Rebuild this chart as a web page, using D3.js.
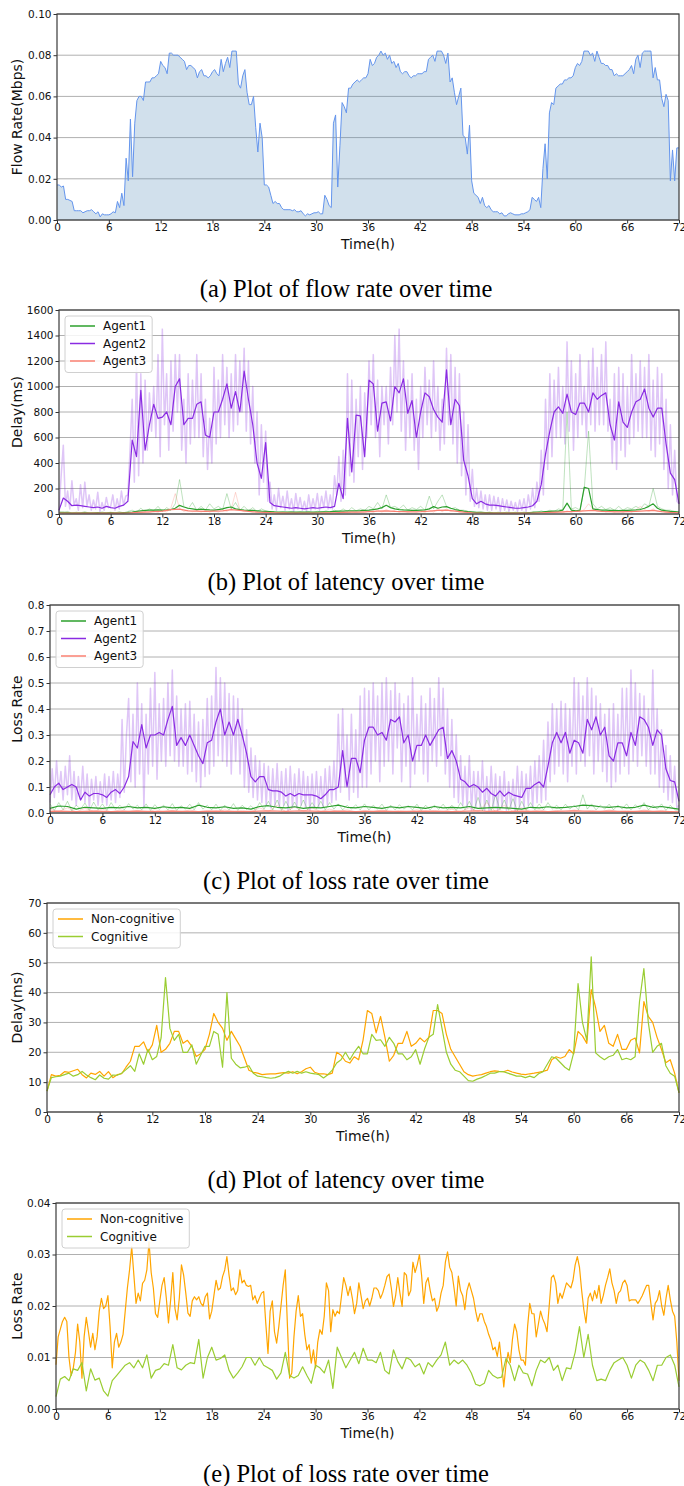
<!DOCTYPE html>
<html>
<head>
<meta charset="utf-8">
<script src="https://cdn.jsdelivr.net/npm/d3@7"></script>
<style>
  body { margin: 0; background: #fff; }
  svg { display: block; }
</style>
</head>
<body>
<svg id="chart" width="684" height="1486"></svg>
<script>

/*
 * Data. Every series covers 0..72 h at an even step (step = 72 / (n - 1)).
 */

// Shared x ticks (hours).
var hourTicks = [0, 6, 12, 18, 24, 30, 36, 42, 48, 54, 60, 66, 72];

// Y ticks per panel.
var flowTicks = [0, 0.02, 0.04, 0.06, 0.08, 0.10];
var delayTicks = [0, 200, 400, 600, 800, 1000, 1200, 1400, 1600];
var lossTicks = [0, 0.1, 0.2, 0.3, 0.4, 0.5, 0.6, 0.7, 0.8];
var cogDelayTicks = [0, 10, 20, 30, 40, 50, 60, 70];
var cogLossTicks = [0, 0.01, 0.02, 0.03, 0.04];

// (a) Flow rate, step 0.25 h.
var flowRate = [
  .017,.017,.016,.0165, .010,.010,.0095,.009, .0045,.0045,.0045,.0045, .0035,.004,.0045,.0045,
  .005,.004,.003,.004, .0015,.003,.0025,.0025, .0025,.003,.004,.0035, .009,.006,.013,.007,
  .030,.019,.049,.021, .047,.058,.060,.060, .058,.067,.067,.067, .069,.069,.070,.071,
  .077,.075,.074,.071, .081,.081,.080,.080, .080,.079,.078,.077, .073,.075,.075,.074,
  .073,.069,.072,.073, .070,.070,.069,.070, .072,.073,.071,.070, .078,.072,.076,.079,
  .074,.082,.082,.082, .066,.064,.070,.073, .062,.056,.056,.060, .045,.033,.047,.040,
  .017,.017,.016,.012, .008,.009,.008,.008, .006,.005,.005,.005, .005,.0045,.005,.004,
  .004,.0045,.003,.002, .003,.0025,.003,.0035, .0035,.004,.003,.003, .012,.010,.007,.006,
  .047,.051,.016,.036, .057,.055,.052,.064, .064,.066,.067,.068, .067,.068,.069,.069,
  .071,.078,.075,.076, .079,.080,.082,.080, .081,.078,.080,.076, .077,.074,.076,.072,
  .071,.072,.072,.070, .069,.070,.070,.071, .071,.071,.072,.072, .078,.079,.080,.077,
  .082,.082,.082,.080, .076,.081,.067,.069, .062,.056,.060,.064, .041,.040,.032,.046,
  .019,.013,.012,.011, .008,.011,.007,.006, .007,.005,.004,.004, .004,.003,.0035,.002,
  .002,.003,.0035,.003, .0025,.0025,.0025,.003, .003,.0035,.004,.005, .011,.010,.009,.011,
  .006,.025,.037,.020, .052,.057,.056,.064, .065,.066,.066,.068, .068,.069,.069,.070,
  .074,.076,.075,.077, .082,.082,.082,.080, .081,.077,.082,.079, .076,.076,.075,.075,
  .073,.073,.070,.071, .070,.070,.070,.071, .072,.073,.075,.071, .078,.080,.074,.081,
  .082,.082,.082,.082, .069,.074,.068,.068, .059,.055,.061,.058, .019,.034,.019,.035,
  .035
];

// (b) Delay, Agent2 raw samples, step 0.25 h.
var delayAgent2Raw = [
  20,300,540,60, 180,40,260,70, 120,30,230,50, 250,60,150,30,
  110,40,170,20, 90,30,130,50, 60,150,30,120, 40,180,70,140,
  150,500,900,250, 1200,300,1100,400, 1050,500,950,650, 1000,600,1250,450,
  1450,700,1100,500, 1200,650,1250,800, 1250,500,900,400, 1100,550,1050,600,
  1250,600,1100,450, 900,350,750,400, 1150,550,1050,600, 1250,700,1150,600,
  1100,650,1250,700, 1200,800,1300,650, 1200,550,1000,400, 800,150,700,250,
  650,100,250,40, 150,30,200,50, 140,30,180,40, 120,20,160,40,
  130,30,100,20, 150,30,120,40, 160,30,140,50, 180,40,150,40,
  300,150,450,100, 500,150,1100,300, 1050,250,900,450, 1000,350,950,600,
  1200,700,1250,600, 1050,450,1000,700, 1000,550,1150,700, 1400,800,1450,650,
  1200,500,1050,600, 1100,500,900,350, 1000,600,1150,700, 1050,600,1200,650,
  1000,500,900,550, 1300,700,1250,550, 1150,400,1100,300, 800,150,700,100,
  350,60,200,50, 180,40,150,30, 150,30,140,40, 130,20,120,30,
  110,20,100,30, 90,20,110,30, 120,20,150,40, 200,50,250,100,
  500,150,900,350, 1100,450,1050,600, 1150,600,1000,550, 1350,650,1200,500,
  1100,600,1250,700, 1000,600,1200,700, 1300,650,1150,700, 1250,700,1350,650,
  900,400,1100,350, 1150,500,1100,450, 1000,550,1250,600, 1100,650,1200,600,
  1150,600,1250,500, 1050,450,1150,550, 1100,350,900,200, 700,150,500,100,
  80
];

// (b) Delay, Agent2 smoothed, step 0.5 h.
var delayAgent2 = [
  30,125, 100,65, 70,65, 60,55, 50,55, 45,60, 50,45, 60,70,
  100,580, 450,970, 500,700, 860,750, 760,800, 700,1000, 1060,700, 750,750,
  860,880, 620,600, 800,800, 900,1020, 830,960, 800,1120, 900,700, 400,280,
  560,90, 65,60, 55,50, 45,50, 45,40, 45,50, 45,50, 55,50,
  60,240, 120,750, 330,775, 770,450, 1050,1020, 650,870, 880,730, 1000,950,
  1060,790, 890,600, 800,950, 920,820, 760,720, 1130,700, 900,850, 420,300,
  120,80, 100,80, 70,70, 65,60, 55,50, 45,45, 50,55, 65,100,
  230,470, 650,800, 840,790, 940,800, 780,870, 870,800, 950,900, 930,950,
  700,580, 880,720, 680,800, 880,900, 980,830, 760,830, 830,550, 320,270,
  80
];

// (b) Delay, Agent1 raw samples, step 0.5 h.
var delayAgent1Raw = [
  15,8, 20,6, 14,9, 18,7, 12,6, 16,8, 14,7, 18,9,
  20,30, 15,45, 20,40, 25,60, 20,50, 30,80, 270,60, 40,90,
  30,60, 30,80, 40,60, 35,160, 40,90, 30,60, 25,50, 20,40,
  25,15, 20,12, 18,12, 20,10, 18,12, 20,10, 22,12, 25,15,
  30,18, 40,20, 50,25, 40,30, 60,40, 90,40, 150,50, 60,40,
  70,30, 50,35, 60,30, 140,40, 100,150, 60,40, 50,30, 30,20,
  20,12, 15,10, 15,8, 14,8, 15,8, 14,8, 15,9, 18,12,
  25,15, 30,20, 40,30, 800,40, 50,30, 200,650, 80,40, 60,35,
  50,30, 60,30, 50,40, 60,40, 80,60, 200,60, 40,30, 30,20,
  15
];

// (b) Delay, Agent1 smoothed, step 0.5 h.
var delayAgent1 = [
  12,12, 11,10, 10,10, 11,10, 10,11, 10,10, 11,10, 10,11,
  12,15, 20,25, 28,30, 30,32, 30,32, 35,45, 68,55, 45,40,
  35,38, 35,32, 30,35, 40,50, 55,40, 35,30, 28,28, 25,22,
  20,18, 16,15, 15,14, 14,15, 14,14, 15,14, 15,16, 17,18,
  20,22, 22,24, 25,25, 26,28, 30,35, 40,50, 68,50, 40,35,
  32,30, 28,28, 30,32, 40,58, 45,55, 58,45, 35,28, 22,18,
  15,12, 12,11, 11,10, 10,10, 10,10, 10,10, 10,11, 12,14,
  15,18, 20,22, 22,30, 85,30, 25,28, 210,200, 40,35, 30,30,
  28,28, 27,28, 28,30, 32,35, 45,60, 80,45, 30,25, 20,18,
  15
];

// (b) Delay, Agent3 raw samples, step 0.5 h.
var delayAgent3Raw = [
  10,5, 9,5, 10,4, 8,5, 9,4, 8,5, 9,4, 10,5,
  12,6, 18,8, 20,10, 25,12, 30,15, 50,160, 45,20, 30,18,
  28,15, 30,15, 28,15, 35,20, 40,170, 35,18, 25,12, 20,10,
  15,8, 12,6, 10,6, 10,5, 10,5, 10,5, 10,5, 11,6,
  12,7, 15,8, 18,10, 20,10, 25,12, 30,15, 35,18, 28,14,
  25,12, 22,12, 25,12, 30,15, 40,18, 40,20, 30,14, 20,10,
  12,6, 10,5, 9,5, 9,4, 9,4, 9,5, 9,5, 10,6,
  12,7, 15,8, 20,10, 25,12, 30,15, 35,80, 40,20, 30,15,
  25,12, 25,12, 28,14, 30,60, 35,18, 40,20, 25,12, 15,8,
  10
];

// (b) Delay, Agent3 smoothed, step 1 h.
var delayAgent3 = [
  8,8,7,7,7,7,7,7, 8,12,15,18,22,35,38,25, 22,20,22,25,35,28,20,15,
  12,10,9,8,8,8,8,9, 10,12,14,15,18,22,25,20, 18,17,18,22,28,30,22,15,
  10,8,7,7,7,7,7,8, 10,12,15,18,20,25,28,20, 18,17,18,20,25,28,18,12,
  10
];

// (c) Loss rate, Agent2 raw samples, step 0.25 h.
var lossAgent2Raw = [
  .04,.17,.06,.20, .08,.16,.05,.18, .07,.22,.05,.16, .03,.14,.05,.18,
  .04,.15,.02,.13, .05,.14,.03,.12, .04,.15,.03,.14, .05,.16,.04,.15,
  .06,.36,.08,.30, .44,.12,.38,.10, .50,.15,.42,.02, .38,.15,.48,.18,
  .54,.13,.42,.20, .44,.18,.50,.22, .55,.20,.45,.18, .40,.18,.42,.15,
  .43,.16,.38,.12, .35,.10,.36,.14, .44,.15,.45,.18, .56,.22,.52,.20,
  .50,.18,.46,.15, .45,.20,.44,.15, .40,.10,.32,.08, .25,.06,.22,.05,
  .20,.04,.19,.03, .18,.02,.17,.03, .19,.02,.16,.03, .17,.01,.18,.02,
  .15,.02,.17,.03, .16,.02,.14,.01, .15,.02,.16,.02, .14,.02,.17,.03,
  .18,.04,.20,.05, .38,.08,.40,.10, .30,.05,.38,.08, .32,.06,.45,.10,
  .48,.10,.47,.15, .50,.20,.45,.12, .50,.18,.52,.20, .47,.15,.50,.25,
  .46,.12,.42,.18, .45,.10,.52,.15, .38,.20,.45,.15, .42,.12,.48,.20,
  .44,.18,.52,.22, .48,.15,.40,.10, .36,.06,.30,.04, .22,.03,.18,.02,
  .22,.01,.16,.02, .16,.02,.20,.01, .14,.01,.18,.02, .15,.01,.14,.02,
  .16,.01,.12,.02, .13,.01,.18,.02, .16,.02,.15,.03, .18,.02,.20,.04,
  .22,.04,.28,.05, .35,.12,.42,.15, .40,.18,.43,.15, .42,.12,.40,.18,
  .52,.15,.50,.20, .45,.18,.52,.22, .48,.15,.45,.20, .42,.16,.38,.12,
  .40,.10,.42,.12, .38,.15,.48,.18, .48,.15,.55,.20, .50,.18,.46,.22,
  .45,.18,.40,.15, .55,.15,.40,.10, .32,.08,.26,.05, .22,.04,.18,.02,
  .03
];

// (c) Loss rate, Agent2 smoothed, step 0.5 h.
var lossAgent2 = [
  .07,.10, .115,.09, .10,.11, .10,.05, .08,.065, .075,.075, .07,.06, .08,.09,
  .075,.10, .14,.275, .25,.34, .25,.30, .30,.31, .30,.36, .41,.26, .29,.26,
  .30,.26, .22,.19, .27,.28, .35,.40, .30,.35, .30,.36, .30,.23, .14,.12,
  .14,.14, .09,.085, .085,.08, .065,.075, .065,.075, .07,.07, .07,.065, .055,.07,
  .09,.09, .10,.24, .10,.21, .21,.155, .28,.33, .33,.30, .31,.28, .36,.35,
  .37,.27, .30,.20, .26,.26, .30,.26, .29,.32, .33,.21, .24,.20, .13,.12,
  .10,.11, .10,.08, .095,.075, .065,.085, .065,.08, .07,.065, .06,.095, .095,.11,
  .12,.10, .18,.27, .31,.27, .31,.23, .28,.27, .23,.36, .32,.37, .30,.33,
  .22,.20, .27,.27, .22,.31, .26,.37, .36,.33, .26,.32, .30,.17, .125,.12,
  .045
];

// (c) Loss rate, Agent1 raw samples, step 0.5 h.
var lossAgent1Raw = [
  .035,.010,.040,.012,.045,.008,.030,.015, .038,.010,.042,.012,.035,.010,.040,.014,
  .030,.012,.036,.015,.030,.012,.035,.010, .032,.014,.030,.012,.036,.010,.028,.015,
  .034,.012,.040,.015,.030,.012,.034,.010, .030,.012,.036,.010,.030,.014,.028,.010,
  .040,.015,.045,.012,.050,.010,.045,.012, .042,.010,.050,.012,.040,.015,.045,.012,
  .040,.015,.035,.012,.030,.015,.032,.012, .035,.012,.030,.015,.034,.010,.030,.012,
  .032,.015,.028,.012,.034,.010,.030,.012, .030,.014,.034,.012,.030,.010,.040,.012,
  .045,.010,.060,.008,.050,.010,.070,.012, .050,.010,.055,.008,.045,.010,.040,.012,
  .035,.012,.040,.015,.030,.012,.034,.015, .030,.012,.070,.015,.035,.012,.030,.015,
  .034,.012,.030,.015,.035,.012,.032,.015, .040,.012,.030,.015,.035,.010,.030,.012,
  .010
];

// (c) Loss rate, Agent1 smoothed, step 1 h.
var lossAgent1 = [
  .018,.027,.025,.015,.022,.020,.018,.022, .020,.025,.020,.022,.018,.024,.020,.022,
  .018,.030,.022,.020,.024,.018,.020,.015, .025,.028,.022,.020,.024,.018,.022,.020,
  .025,.030,.022,.020,.025,.022,.018,.024, .020,.025,.022,.018,.025,.020,.022,.020,
  .025,.018,.020,.022,.020,.018,.015,.022, .020,.024,.020,.022,.025,.030,.028,.024,
  .022,.025,.020,.022,.030,.022,.025,.020, .015
];

// (c) Loss rate, Agent3 raw samples, step 1 h.
var lossAgent3Raw = [
  .015,.005,.020,.004,.018,.006,.015,.004, .012,.005,.010,.004,.012,.005,.010,.004,
  .012,.005,.010,.004,.012,.005,.010,.004, .020,.005,.030,.004,.025,.006,.020,.005,
  .015,.005,.012,.004,.010,.005,.012,.004, .010,.005,.012,.004,.010,.005,.015,.004,
  .020,.005,.040,.005,.030,.006,.020,.005, .012,.005,.010,.004,.012,.005,.010,.004,
  .012,.005,.010,.004,.012,.005,.010,.004, .005
];

// (c) Loss rate, Agent3 smoothed, step 1 h.
var lossAgent3 = [
  .006,.007,.006,.005,.006,.007,.006,.005, .006,.006,.007,.006,.005,.006,.007,.006,
  .006,.005,.006,.007,.006,.006,.005,.006, .007,.008,.007,.006,.007,.008,.007,.006,
  .006,.007,.006,.005,.006,.006,.007,.006, .005,.006,.006,.007,.006,.006,.005,.006,
  .007,.008,.006,.007,.005,.006,.007,.006, .006,.005,.006,.007,.008,.007,.006,.006,
  .007,.006,.005,.006,.007,.006,.006,.005, .004
];

// (d) Delay, non-cognitive vs cognitive, step 0.5 h.
var delayNonCog = [
  7,12.5, 12,12.3, 13.5,13.3, 13.8,14.3, 12.5,11.4, 13,12.6, 13.6,12, 13.5,11.5,
  12.5,12.8, 15,17, 22,22, 23.5,20, 22.5,29, 20,21, 23,27, 27,23,
  24,22, 18.6,19.5, 21,26, 33,30, 28,24, 27,24.5, 22,18, 14,13.3,
  13,12.5, 12.7,12.8, 12.8,13, 13.2,13, 13.5,12.8, 13.5,14.5, 15,13.3, 12.8,12.8,
  12.5,13, 20,19, 17,16.4, 18.5,17.5, 24,34, 33,26.5, 32,25, 17,19,
  23,23, 27,22, 23,24.8, 23.5,25, 34,34, 33,26, 21,18.5, 16,13.5,
  12.5,12, 12.3,12.5, 13,13.5, 13.8,13.6, 13.5,14, 13.4,13, 12.7,12.5, 12.8,13,
  13.3,13.6, 14,17.5, 18.5,18, 18.6,20.9, 19.5,27, 25.5,23, 41,35, 27,29,
  23,22, 26,21, 21,24, 24.8,19.8, 37,32, 30,25, 21,16.5, 17.5,13,
  6.4
];
var delayCog = [
  7,11.5, 11.8,12, 12.5,13, 12,12.5, 13.6,12.4, 11.5,10.8, 12.4,11.3, 11,12.4,
  12.3,13, 14.2,15.5, 13.6,19.5, 16,21, 17.5,18.6, 24.8,45, 28,24, 26,20,
  20,22.5, 16,19, 22,22, 27,26, 15,40, 18,16, 14.8,15, 15.5,13,
  12,11.8, 11.5,11.3, 11.5,12, 13,13.6, 13,13.6, 13,13.5, 13,12.8, 12.5,11.4,
  12.5,14, 16.4,17.5, 20,17.5, 20,22, 19.5,19.5, 26,24, 24.2,22, 25,23,
  19.5,19.5, 17.5,18.5, 20.9,16, 21,25, 26,36, 28,20, 16,14, 13.5,12,
  10.5,10.3, 11,11.5, 12.2,13, 13,13.5, 13.5,13, 12.5,12, 12,11.5, 12,11.5,
  12.8,13.5, 16,18.5, 18,16.5, 15,14, 19.8,43, 30,24, 52,19.8, 18.5,17.5,
  18.5,19, 20.9,17.5, 18,17.5, 18.5,37, 48,30, 20,22, 23,15.5, 13,12,
  6.5
];

// (e) Loss rate, non-cognitive (step 0.25 h) vs cognitive (step 0.5 h).
var lossNonCog = [
  .0086,.0140,.0155,.0170, .0178,.0170,.0100,.0065, .0080,.0110,.0165,.0130, .0060,.0140,.0178,.0150,
  .0120,.0147,.0115,.0140, .0190,.0215,.0195,.0200, .0220,.0160,.0080,.0130, .0147,.0120,.0130,.0145,
  .0190,.0235,.0270,.0315, .0260,.0205,.0225,.0210, .0244,.0250,.0270,.0325, .0265,.0235,.0185,.0178,
  .0210,.0240,.0255,.0215, .0167,.0212,.0265,.0195, .0173,.0215,.0280,.0260, .0225,.0186,.0180,.0210,
  .0218,.0212,.0218,.0205, .0200,.0218,.0225,.0175, .0190,.0220,.0250,.0231, .0235,.0257,.0270,.0296,
  .0260,.0230,.0235,.0222, .0230,.0270,.0245,.0250, .0240,.0238,.0240,.0212, .0220,.0205,.0215,.0225,
  .0228,.0165,.0108,.0190, .0210,.0150,.0128,.0160, .0200,.0240,.0270,.0160, .0060,.0070,.0140,.0190,
  .0220,.0180,.0185,.0145, .0115,.0125,.0089,.0115, .0080,.0130,.0154,.0145, .0180,.0245,.0230,.0150,
  .0193,.0180,.0190,.0185, .0220,.0255,.0240,.0220, .0238,.0215,.0185,.0205, .0245,.0220,.0195,.0210,
  .0215,.0200,.0215,.0235, .0235,.0230,.0215,.0225, .0240,.0257,.0262,.0235, .0199,.0220,.0255,.0225,
  .0199,.0265,.0260,.0220, .0230,.0285,.0265,.0280, .0300,.0260,.0205,.0245, .0255,.0230,.0210,.0215,
  .0190,.0200,.0225,.0240, .0285,.0305,.0275,.0265, .0235,.0200,.0258,.0230, .0220,.0193,.0230,.0245,
  .0230,.0215,.0190,.0170, .0185,.0185,.0170,.0160, .0145,.0134,.0115,.0120, .0102,.0130,.0089,.0043,
  .0085,.0110,.0090,.0135, .0165,.0150,.0115,.0095, .0095,.0085,.0160,.0205, .0185,.0185,.0140,.0165,
  .0190,.0175,.0165,.0150, .0200,.0255,.0260,.0245, .0205,.0225,.0215,.0230, .0245,.0240,.0235,.0250,
  .0280,.0296,.0275,.0230, .0193,.0167,.0215,.0225, .0210,.0230,.0215,.0240, .0205,.0220,.0240,.0255,
  .0272,.0245,.0230,.0205, .0225,.0230,.0245,.0250, .0240,.0210,.0212,.0212, .0212,.0205,.0212,.0220,
  .0230,.0240,.0240,.0205, .0173,.0205,.0212,.0230, .0200,.0182,.0215,.0240, .0212,.0190,.0180,.0130,
  .0055
];
var lossCog = [
  .0024,.0058, .0063,.0055, .0078,.0075, .0090,.0035, .0078,.0056, .0060,.0035, .0025,.0055, .0065,.0075,
  .0085,.0090, .0080,.0095, .0080,.0105, .0060,.0075, .0078,.0088, .0085,.0125, .0080,.0076, .0085,.0090,
  .0088,.0135, .0060,.0100, .0120,.0095, .0098,.0105, .0075,.0060, .0070,.0082, .0100,.0100, .0085,.0100,
  .0085,.0080, .0075,.0058, .0070,.0110, .0065,.0060, .0065,.0082, .0065,.0050, .0085,.0080, .0070,.0095,
  .0040,.0120, .0100,.0080, .0095,.0110, .0088,.0118, .0095,.0095, .0090,.0110, .0075,.0068, .0115,.0092,
  .0078,.0100, .0095,.0082, .0088,.0068, .0090,.0082, .0095,.0105, .0130,.0085, .0095,.0088, .0095,.0085,
  .0070,.0048, .0045,.0050, .0075,.0065, .0060,.0062, .0098,.0085, .0055,.0085, .0070,.0068, .0045,.0075,
  .0095,.0090, .0100,.0075, .0085,.0055, .0080,.0078, .0110,.0160, .0100,.0145, .0085,.0055, .0058,.0055,
  .0075,.0090, .0095,.0100, .0085,.0060, .0085,.0095, .0090,.0075, .0055,.0085, .0085,.0100, .0105,.0085,
  .0043
];

/*
 * Layout.
 */

var svg = d3.select('#chart');
var plotRight = 679;
var font = '"DejaVu Sans", sans-serif';

/*
 * Turn an evenly spaced array into {t, v} points.
 *
 * @param {Array} values: Samples over 0..72 h.
 *
 * @return {Array}.
 */
function timed(values) {
  var step = 72 / (values.length - 1);
  return values.map(function(v, i) { return { t: i * step, v: v }; });
}

/*
 * Draw the frame of a panel: grid, axes, labels, caption.
 *
 * @param {Object} p: Panel layout.
 *
 * @return {Object} scales and groups.
 */
function drawPanel(p) {

  var x = d3.scaleLinear().domain([0, 72]).range([p.left, plotRight]);
  var y = d3.scaleLinear().domain([0, p.yMax]).range([p.bottom, p.top]);
  var g = svg.append('g');

  // Horizontal grid.
  g.append('g').selectAll('line').data(p.yTicks).enter().append('line')
    .attr('x1', p.left).attr('x2', plotRight)
    .attr('y1', function(d) { return y(d); })
    .attr('y2', function(d) { return y(d); })
    .attr('stroke', '#b0b0b0').attr('stroke-width', 1);

  // Marks go here.
  var marks = g.append('g');

  // Axes.
  var yAxis = d3.axisLeft(y).tickValues(p.yTicks)
    .tickFormat(d3.format(p.fmt)).tickSize(3.5).tickPadding(2);
  var xAxis = d3.axisBottom(x).tickValues(hourTicks)
    .tickFormat(d3.format('d')).tickSize(3.5).tickPadding(0.5);

  var ya = g.append('g').attr('transform', 'translate(' + p.left + ',0)').call(yAxis);
  var xa = g.append('g').attr('transform', 'translate(0,' + p.bottom + ')').call(xAxis);
  [ya, xa].forEach(function(a) {
    a.select('.domain').remove();
    a.attr('font-family', font).attr('font-size', 10.5);
    a.selectAll('line').attr('stroke', '#333');
    a.selectAll('text').attr('fill', '#111');
  });

  // Frame.
  g.append('rect')
    .attr('x', p.left).attr('y', p.top)
    .attr('width', plotRight - p.left).attr('height', p.bottom - p.top)
    .attr('fill', 'none').attr('stroke', '#3a3a3a').attr('stroke-width', 1.2);

  // Axis titles.
  g.append('text')
    .attr('transform', 'translate(22,' + ((p.top + p.bottom) / 2) + ') rotate(-90)')
    .attr('text-anchor', 'middle')
    .attr('font-family', font).attr('font-size', 14).attr('fill', '#111')
    .text(p.yLabel);

  g.append('text')
    .attr('x', (p.left + plotRight) / 2).attr('y', p.bottom + 28.5)
    .attr('text-anchor', 'middle')
    .attr('font-family', font).attr('font-size', 14).attr('fill', '#111')
    .text('Time(h)');

  // Caption.
  g.append('text')
    .attr('x', 346).attr('y', p.captionY)
    .attr('text-anchor', 'middle')
    .attr('font-family', '"Liberation Serif", "Times New Roman", serif')
    .attr('font-size', 24.5).attr('fill', '#000')
    .text(p.caption);

  return { x: x, y: y, g: g, marks: marks, p: p };
}

/*
 * Draw one series as a line.
 *
 * @return void.
 */
function drawLine(panel, values, color, width, opacity) {
  var line = d3.line()
    .x(function(d) { return panel.x(d.t); })
    .y(function(d) { return panel.y(d.v); });
  panel.marks.append('path')
    .datum(timed(values))
    .attr('d', line)
    .attr('fill', 'none')
    .attr('stroke', color)
    .attr('stroke-width', width)
    .attr('stroke-opacity', opacity || 1)
    .attr('stroke-linejoin', 'round');
}

/*
 * Draw a matplotlib-like legend in the upper left.
 *
 * @return void.
 */
function drawLegend(panel, items) {
  var bx = panel.p.left + 6;
  var by = panel.p.top + 6;
  var lg = panel.g.append('g');
  var box = lg.append('rect');
  var maxW = 0;

  items.forEach(function(item, i) {
    var cy = by + 10 + i * 17.5;
    lg.append('line')
      .attr('x1', bx + 5).attr('x2', bx + 30)
      .attr('y1', cy).attr('y2', cy)
      .attr('stroke', item.color).attr('stroke-width', 1.5);
    var t = lg.append('text')
      .attr('x', bx + 38).attr('y', cy)
      .attr('dominant-baseline', 'central')
      .attr('font-family', font).attr('font-size', 12).attr('fill', '#111')
      .text(item.label);
    maxW = Math.max(maxW, t.node().getComputedTextLength());
  });

  box.attr('x', bx).attr('y', by)
    .attr('width', 38 + maxW + 6).attr('height', items.length * 17.5 + 4)
    .attr('rx', 3)
    .attr('fill', '#fff').attr('fill-opacity', 0.85)
    .attr('stroke', '#d0d0d0');
}

/*
 * (a) Flow rate.
 */
var pa = drawPanel({
  left: 57, top: 14, bottom: 220, yMax: 0.1, yTicks: flowTicks, fmt: '.2f',
  yLabel: 'Flow Rate(Mbps)', caption: '(a) Plot of flow rate over time', captionY: 297
});
var area = d3.area()
  .x(function(d) { return pa.x(d.t); })
  .y0(pa.y(0))
  .y1(function(d) { return pa.y(d.v); });
pa.marks.append('path')
  .datum(timed(flowRate))
  .attr('d', area)
  .attr('fill', 'steelblue').attr('fill-opacity', 0.25);
drawLine(pa, flowRate, '#6495ed', 1);

/*
 * (b) Latency per agent.
 */
var pb = drawPanel({
  left: 59, top: 310, bottom: 514, yMax: 1600, yTicks: delayTicks, fmt: 'd',
  yLabel: 'Delay(ms)', caption: '(b) Plot of latency over time', captionY: 590
});
drawLine(pb, delayAgent2Raw, '#8a2be2', 1.5, 0.27);
drawLine(pb, delayAgent1Raw, '#2ca02c', 1, 0.3);
drawLine(pb, delayAgent3Raw, '#fa8072', 1, 0.3);
drawLine(pb, delayAgent2, '#8a2be2', 1.2);
drawLine(pb, delayAgent1, '#2ca02c', 1.2);
drawLine(pb, delayAgent3, '#fa8072', 1.2);
drawLegend(pb, [
  { label: 'Agent1', color: '#2ca02c' },
  { label: 'Agent2', color: '#8a2be2' },
  { label: 'Agent3', color: '#fa8072' }
]);

/*
 * (c) Loss rate per agent.
 */
var pc = drawPanel({
  left: 50, top: 605, bottom: 813, yMax: 0.8, yTicks: lossTicks, fmt: '.1f',
  yLabel: 'Loss Rate', caption: '(c) Plot of loss rate over time', captionY: 889
});
drawLine(pc, lossAgent2Raw, '#8a2be2', 1.5, 0.27);
drawLine(pc, lossAgent1Raw, '#2ca02c', 1, 0.3);
drawLine(pc, lossAgent3Raw, '#fa8072', 1, 0.3);
drawLine(pc, lossAgent2, '#8a2be2', 1.2);
drawLine(pc, lossAgent1, '#2ca02c', 1.2);
drawLine(pc, lossAgent3, '#fa8072', 1.2);
drawLegend(pc, [
  { label: 'Agent1', color: '#2ca02c' },
  { label: 'Agent2', color: '#8a2be2' },
  { label: 'Agent3', color: '#fa8072' }
]);

/*
 * (d) Latency, cognitive vs non-cognitive.
 */
var pd = drawPanel({
  left: 47, top: 903, bottom: 1112, yMax: 70, yTicks: cogDelayTicks, fmt: 'd',
  yLabel: 'Delay(ms)', caption: '(d) Plot of latency over time', captionY: 1188
});
drawLine(pd, delayNonCog, '#ffa500', 1.2);
drawLine(pd, delayCog, '#9acd32', 1.2);
drawLegend(pd, [
  { label: 'Non-cognitive', color: '#ffa500' },
  { label: 'Cognitive', color: '#9acd32' }
]);

/*
 * (e) Loss rate, cognitive vs non-cognitive.
 */
var pe = drawPanel({
  left: 56, top: 1203, bottom: 1409, yMax: 0.04, yTicks: cogLossTicks, fmt: '.2f',
  yLabel: 'Loss Rate', caption: '(e) Plot of loss rate over time', captionY: 1482
});
drawLine(pe, lossNonCog, '#ffa500', 1.2);
drawLine(pe, lossCog, '#9acd32', 1.2);
drawLegend(pe, [
  { label: 'Non-cognitive', color: '#ffa500' },
  { label: 'Cognitive', color: '#9acd32' }
]);

</script>
</body>
</html>
